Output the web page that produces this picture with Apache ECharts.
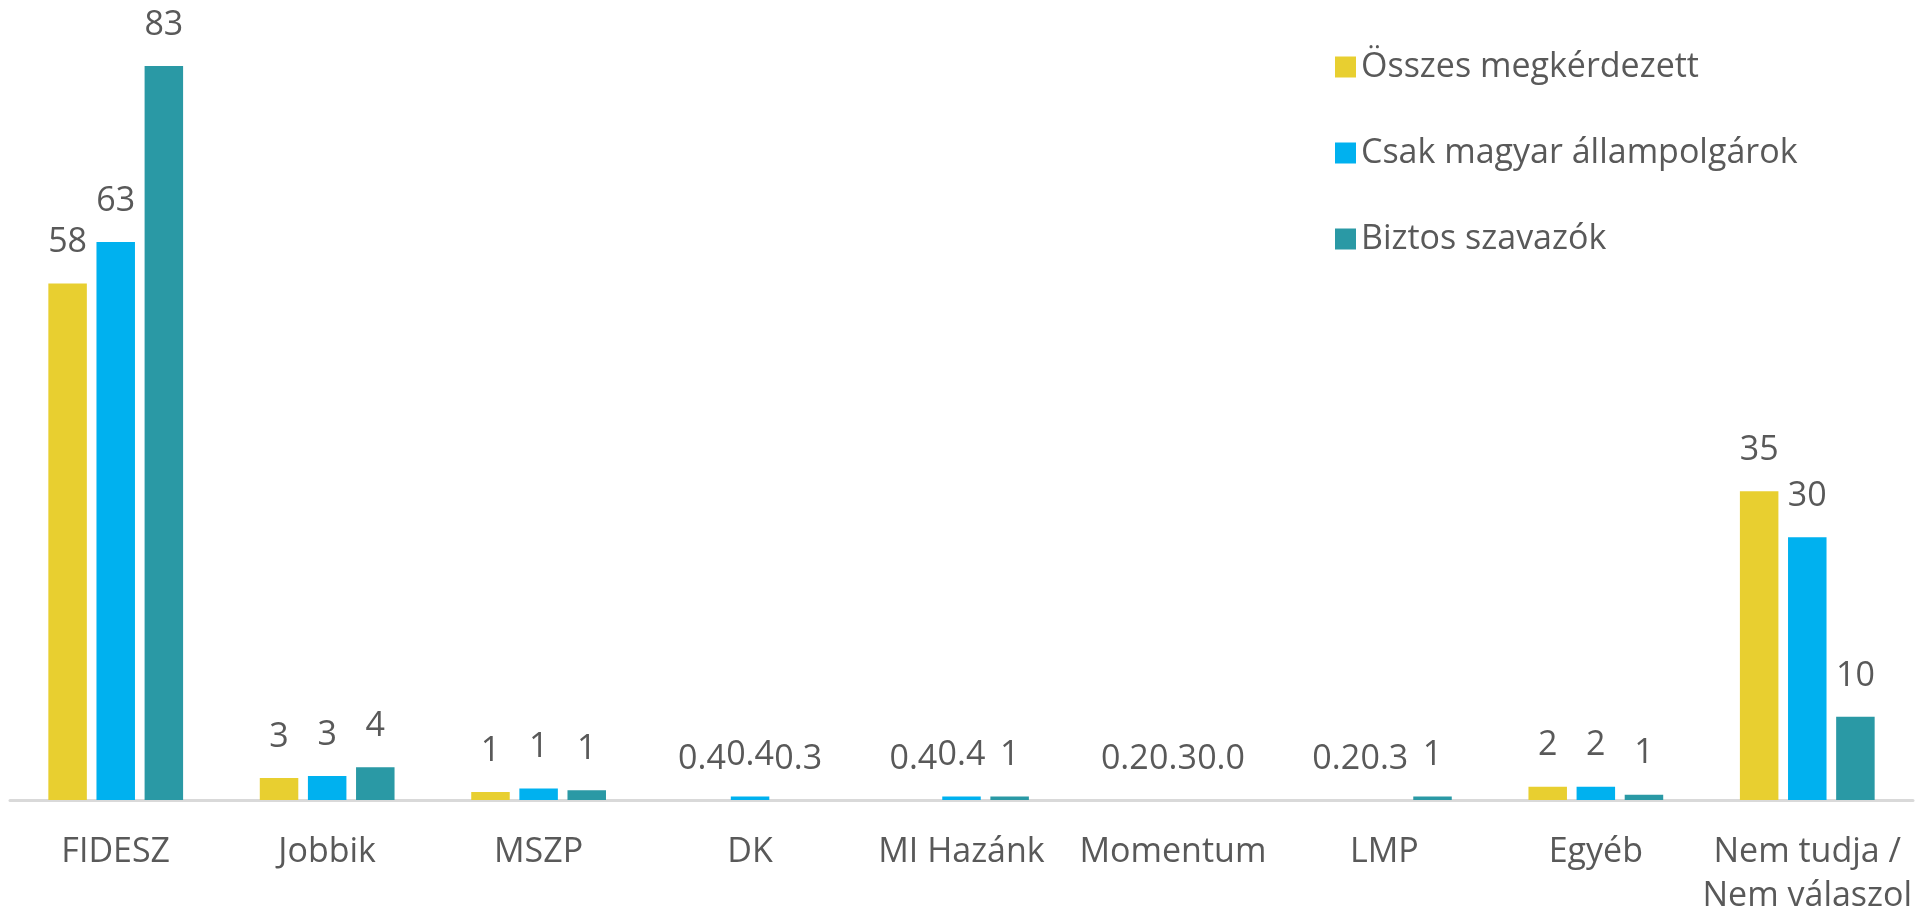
<!DOCTYPE html>
<html>
<head>
<meta charset="utf-8">
<script src="https://cdn.jsdelivr.net/npm/echarts@6/dist/echarts.min.js"></script>
<style>
html,body{margin:0;padding:0;background:#fff;}
#chart{width:1922px;height:918px;}
</style>
</head>
<body>
<div id="chart"></div>
<script>
const categories = ['FIDESZ', 'Jobbik', 'MSZP', 'DK', 'MI Hazánk', 'Momentum', 'LMP', 'Egyéb', 'Nem tudja /\nNem válaszol'];
const seriesNames = ['Összes megkérdezett', 'Csak magyar állampolgárok', 'Biztos szavazók'];

// bar heights as drawn
const osszesValues = [58.4, 2.5, 0.9, 0, 0, 0, 0, 1.5, 34.9];
const magyarValues = [63.1, 2.7, 1.3, 0.4, 0.4, 0, 0, 1.5, 29.7];
const biztosValues = [83.0, 3.7, 1.1, 0, 0.4, 0, 0.4, 0.6, 9.4];

// data label texts as printed
const osszesLabels = ['58', '3', '1', '0.4', '0.4', '0.2', '0.2', '2', '35'];
const magyarLabels = ['63', '3', '1', '0.4', '0.4', '0.3', '0.3', '2', '30'];
const biztosLabels = ['83', '4', '1', '0.3', '1', '0.0', '1', '1', '10'];

const colors = ['#E8CF30', '#00B1EF', '#2A99A5'];
const FONT = '"Open Sans", sans-serif';
const TXT = '#595959';

function mkSeries(name, values, labels, color) {
  return {
    name: name,
    type: 'bar',
    data: values,
    barWidth: 38.5,
    barGap: '25%',
    itemStyle: { color: color },
    label: {
      show: true,
      position: 'top',
      distance: 24,
      color: TXT,
      fontFamily: FONT,
      fontSize: 34,
      formatter: p => labels[p.dataIndex]
    },
    labelLayout: { hideOverlap: false }
  };
}

const chart = echarts.init(document.getElementById('chart'), null, { renderer: 'canvas' });
chart.setOption({
  animation: false,
  backgroundColor: '#fff',
  color: colors,
  legend: {
    orient: 'vertical',
    left: 1330,
    top: 40,
    itemWidth: 21,
    itemHeight: 21,
    itemGap: 42,
    icon: 'rect',
    textStyle: { color: TXT, fontFamily: FONT, fontSize: 34, lineHeight: 44 },
    data: seriesNames
  },
  grid: { left: 10, right: 9, top: 4, bottom: 113, containLabel: false },
  xAxis: {
    type: 'category',
    data: categories,
    axisLine: { show: true, lineStyle: { color: '#D9D9D9', width: 3 } },
    axisTick: { show: false },
    axisLabel: { color: TXT, fontFamily: FONT, fontSize: 34, lineHeight: 44, margin: 30, interval: 0 }
  },
  yAxis: {
    type: 'value',
    min: 0,
    max: 90,
    show: false,
    splitLine: { show: false }
  },
  series: [
    mkSeries(seriesNames[0], osszesValues, osszesLabels, colors[0]),
    mkSeries(seriesNames[1], magyarValues, magyarLabels, colors[1]),
    mkSeries(seriesNames[2], biztosValues, biztosLabels, colors[2])
  ]
});
</script>
</body>
</html>
